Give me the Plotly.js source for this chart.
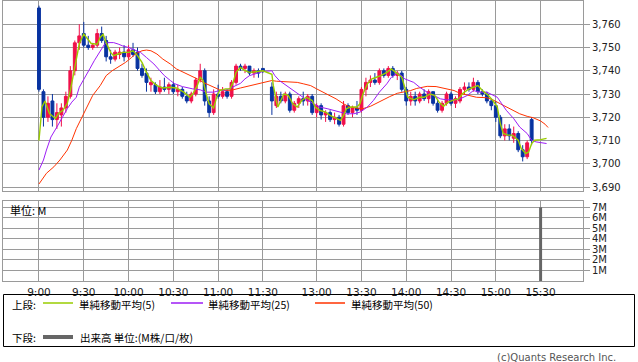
<!DOCTYPE html>
<html><head><meta charset="utf-8">
<script src="https://cdn.plot.ly/plotly-3.0.1.min.js"></script>
<style>html,body{margin:0;padding:0;background:#fff;}#chart{width:638px;height:362px;}</style>
</head><body><div id="chart"></div>
<script>
// ---- 3-minute candles (time, open, high, low, close) ----
const candleTime = ["9:00","9:03","9:06","9:09","9:12","9:15","9:18","9:21","9:24","9:27",
"9:30","9:33","9:36","9:39","9:42","9:45","9:48","9:51","9:54","9:57",
"10:00","10:03","10:06","10:09","10:12","10:15","10:18","10:21","10:24","10:27",
"10:30","10:33","10:36","10:39","10:42","10:45","10:48","10:51","10:54","10:57",
"11:00","11:03","11:06","11:09","11:12","11:15","11:18","11:21","11:24","11:27","11:30",
"12:30","12:33","12:36","12:39","12:42","12:45","12:48","12:51","12:54","12:57",
"13:00","13:03","13:06","13:09","13:12","13:15","13:18","13:21","13:24","13:27",
"13:30","13:33","13:36","13:39","13:42","13:45","13:48","13:51","13:54","13:57",
"14:00","14:03","14:06","14:09","14:12","14:15","14:18","14:21","14:24","14:27",
"14:30","14:33","14:36","14:39","14:42","14:45","14:48","14:51","14:54","14:57",
"15:00","15:03","15:06","15:09","15:12","15:15","15:18","15:21","15:24"];
const openPx = [3767,3731,3720,3727,3719,3721,3724,3729,3740,3752,
3756,3751,3750,3751,3756,3753,3746,3745,3747,3748,
3746,3749,3748,3741,3739,3734,3734,3731,3733,3732,
3734,3731,3732,3729,3727,3730,3736,3740,3727,3722,
3730,3729,3731,3729,3735,3742,3741,3742,3739,3740,3741,
3733,3725,3729,3727,3730,3723,3726,3728,3727,3729,
3722,3725,3721,3722,3719,3720,3717,3725,3722,3724,
3723,3732,3735,3736,3735,3740,3738,3741,3738,3739,
3732,3727,3729,3727,3730,3728,3731,3726,3723,3726,
3730,3726,3727,3732,3733,3732,3735,3731,3730,3727,
3725,3720,3712,3715,3711,3713,3706,3703,3719];
const highPx = [3768,3732,3729,3730,3726,3726,3731,3742,3753,3760,
3761,3755,3752,3758,3759,3755,3749,3749,3750,3751,
3751,3752,3750,3743,3741,3737,3735,3736,3737,3735,
3735,3734,3733,3731,3731,3737,3743,3741,3729,3732,
3734,3733,3732,3736,3743,3743,3743,3742,3741,3741,3741,
3735,3731,3731,3731,3731,3727,3729,3731,3730,3730,
3726,3726,3723,3723,3722,3721,3727,3726,3725,3727,
3733,3737,3738,3739,3741,3741,3742,3742,3740,3740,
3733,3731,3731,3731,3732,3732,3731,3728,3727,3731,
3731,3729,3733,3735,3735,3737,3736,3732,3731,3728,
3727,3721,3717,3717,3716,3714,3708,3710,3720];
const lowPx = [3731,3716,3718,3716,3715,3716,3722,3728,3738,3749,
3750,3749,3749,3750,3752,3744,3743,3744,3745,3744,
3745,3746,3740,3737,3731,3731,3730,3730,3731,3730,
3730,3729,3728,3726,3726,3729,3735,3725,3720,3721,
3728,3728,3728,3728,3734,3740,3739,3738,3737,3737,3739,
3721,3724,3726,3726,3722,3722,3724,3725,3725,3721,
3720,3719,3718,3718,3717,3716,3716,3721,3720,3721,
3722,3729,3733,3734,3734,3737,3737,3737,3736,3731,
3725,3725,3725,3726,3727,3726,3725,3722,3722,3725,
3725,3724,3726,3730,3731,3731,3730,3729,3726,3723,
3718,3711,3710,3710,3709,3705,3701,3702,3708];
const closePx = [3732,3720,3726,3719,3722,3724,3729,3740,3752,3755,
3751,3750,3751,3756,3753,3746,3745,3748,3748,3746,
3749,3747,3741,3738,3735,3735,3731,3733,3732,3734,
3731,3732,3729,3727,3730,3736,3740,3727,3722,3730,
3729,3731,3729,3735,3742,3741,3742,3739,3740,3739,3740,
3727,3729,3727,3730,3723,3726,3728,3727,3729,3722,
3725,3721,3722,3719,3720,3717,3725,3722,3724,3723,
3732,3735,3736,3735,3740,3738,3741,3738,3739,3732,
3727,3729,3727,3730,3728,3731,3726,3723,3726,3730,
3726,3728,3732,3733,3732,3735,3731,3730,3727,3725,
3720,3712,3715,3712,3713,3706,3703,3709,3710];

// ---- moving averages ----
const ma5Time = ["9:00","9:01","9:02","9:04","9:07","9:11","9:13","9:16","9:19","9:21","9:23","9:25","9:27","9:30","9:32","9:35","9:39","9:41","9:43","9:45","9:48","9:50","9:53","9:56","10:00","10:03","10:06","10:09","10:12","10:15","10:19","10:23","10:28","10:32","10:37","10:41","10:43","10:46","10:48","10:50","10:52","10:54","10:57","10:59","11:01","11:05","11:08","11:10","11:12","11:15","11:18","11:21","11:25","11:28","11:30",
"12:30","12:31","12:33","12:34","12:38","12:41","12:44","12:47","12:50","12:53","12:57","12:59","13:02","13:06","13:09","13:12","13:16","13:18","13:20","13:23","13:27","13:29","13:31","13:34","13:37","13:40","13:43","13:47","13:50","13:53","13:57","13:59","14:01","14:05","14:09","14:12","14:16","14:19","14:22","14:25","14:28","14:32","14:35","14:38","14:42","14:45","14:48","14:51","14:55","14:58","15:01","15:03","15:05","15:08","15:11","15:15","15:17","15:20","15:22","15:24","15:26","15:30","15:34"];
const ma5Val = [3710,3717,3724.4,3727,3721.6,3719.5,3721.6,3723,3726,3731.5,3738,3745,3751.6,3755.8,3754.3,3751.7,3751.4,3754.3,3755.7,3752,3747.9,3746.5,3747.2,3747.9,3747.9,3748.6,3746.5,3743.6,3739.3,3735.8,3733.6,3732.6,3732.9,3732.6,3730.8,3728.6,3730,3733.6,3737.2,3735.8,3730,3725.8,3724,3728.6,3731.5,3732.2,3732.2,3735,3739.3,3741.4,3740,3739.3,3739.6,3739.7,3740,
3738.5,3733.6,3727,3724.4,3730,3729.4,3725.8,3724.4,3727.2,3728.6,3727.2,3724.4,3723,3722.2,3720.8,3720,3718.7,3720.8,3723.7,3724.4,3724.4,3725.8,3730,3734.4,3736.5,3737.2,3737.9,3739.3,3740.8,3739.3,3737.2,3732.9,3728.6,3727.5,3728.6,3728.6,3730,3729.4,3726.5,3724.7,3726.5,3727.5,3727.9,3730.3,3732.2,3732.9,3733.6,3731.5,3729.4,3727.2,3724.4,3717.3,3713,3712.3,3712.3,3710.1,3706.6,3704.4,3705.1,3708.7,3710.1,3710.4,3710.9];

const ma25Time = ["9:00","9:03","9:05","9:08","9:12","9:15","9:19","9:22","9:25","9:27","9:31","9:34","9:37","9:41","9:44","9:46","9:50","9:53","9:56","10:00","10:03","10:08","10:12","10:17","10:21","10:24","10:28","10:31","10:36","10:40","10:43","10:48","10:52","10:57","11:01","11:06","11:10","11:15","11:18","11:21","11:26","11:30",
"12:30","12:32","12:35","12:40","12:44","12:49","12:53","12:58","13:02","13:07","13:11","13:16","13:20","13:25","13:29","13:34","13:38","13:42","13:47","13:50","13:54","13:57","13:59","14:05","14:09","14:14","14:18","14:23","14:27","14:32","14:36","14:41","14:45","14:49","14:54","14:57","15:01","15:04","15:07","15:12","15:16","15:21","15:24","15:27","15:31","15:34"];
const ma25Val = [3697.3,3701.6,3705.9,3711.5,3715.8,3719.4,3723.7,3726.5,3728.6,3732.9,3737.2,3740.8,3744.3,3748.6,3751.5,3752.1,3752.1,3751.5,3750.7,3750,3749.3,3747.9,3745.7,3742.9,3740,3737.9,3735.8,3734.4,3733.2,3732.6,3732.2,3731.8,3730.8,3730.8,3731.5,3731.8,3732.9,3734.6,3736.5,3737.9,3738.9,3739.7,
3740,3737.9,3735.8,3733.6,3731.5,3729.4,3727.6,3725.8,3724.4,3723.7,3723,3722.2,3721.5,3721.5,3722.2,3724.4,3727.2,3730.8,3734.4,3737.2,3738.9,3737.9,3736.5,3735,3732.9,3730.8,3729.4,3727.9,3727.5,3727.5,3727.9,3729.4,3731.5,3730.8,3730.8,3730,3728.6,3725.8,3723,3719.4,3715.8,3713,3710.1,3709.4,3709,3708.7];

const ma50Time = ["9:00","9:05","9:10","9:14","9:19","9:22","9:25","9:29","9:32","9:36","9:41","9:45","9:49","9:53","9:58","10:02","10:05","10:09","10:12","10:15","10:19","10:23","10:28","10:32","10:37","10:41","10:46","10:50","10:55","10:59","11:01","11:06","11:10","11:15","11:19","11:24","11:29",
"12:30","12:33","12:38","12:42","12:47","12:51","12:56","13:00","13:04","13:09","13:13","13:18","13:22","13:27","13:31","13:36","13:40","13:45","13:49","13:54","13:58","14:03","14:07","14:14","14:20","14:27","14:32","14:36","14:41","14:47","14:54","14:58","15:03","15:07","15:12","15:16","15:21","15:25","15:30","15:33","15:35"];
const ma50Val = [3691.3,3695.9,3698.7,3701.6,3705.9,3710.1,3715.1,3720.1,3724.4,3729.4,3733.6,3737.9,3740,3741.5,3743.6,3745.7,3747.4,3748.6,3748.9,3748.6,3747.2,3745,3742.9,3740.8,3739.3,3737.9,3736.5,3735,3733.6,3732.2,3731.8,3731.5,3731.8,3732.6,3733.2,3734.1,3734.8,
3735.8,3735.5,3735.3,3735.3,3735,3734.4,3733.6,3732.2,3730.8,3729.4,3727.9,3725.8,3724.4,3723.9,3723.7,3724.7,3726.1,3727.5,3728.9,3730.3,3730.8,3731.5,3732.4,3733.3,3733.2,3732.2,3731.5,3730.3,3729.4,3728.6,3728.4,3727.5,3725.8,3724.4,3723,3721.5,3720.4,3719.8,3718.4,3717,3715.6];

// ---- volume (M shares) ----
const volTime = ["15:30"];
const volVal = [7.0];

// ---- ticks ----
const timeTicks = ["9:00","9:30","10:00","10:30","11:00","11:30","13:00","13:30","14:00","14:30","15:00","15:30"];
const priceTicks = [3690,3700,3710,3720,3730,3740,3750,3760];
const volTicks = [1,2,3,4,5,6,7];
const volTickText = ["1M","2M","3M","4M","5M","6M","7M"];

// session slot: minutes since 9:00, lunch break compressed
function slot(t){const a=t.split(':').map(Number);let v=a[0]*60+a[1]-540;if(v>150)v-=54;return v;}

const RED='#F0104A', BLUE='#0833A0', GRID='#9a9a9a';
const C5='#99CC00', C25='#9D1DF5', C50='#FF3300';
const W=638,H=362,ML=3,MR=55,MT=1,MB=81;
const PW=W-ML-MR, PH=H-MT-MB;
const px=x=>(x-ML)/PW, py=y=>(H-MB-y)/PH;
const jp="'Noto Sans CJK JP', sans-serif", dv="'DejaVu Sans', sans-serif";

const traces=[
 {type:'candlestick',x:candleTime.map(slot),open:openPx,high:highPx,low:lowPx,close:closePx,
  xaxis:'x',yaxis:'y',whiskerwidth:0,hoverinfo:'none',
  increasing:{line:{color:RED,width:1},fillcolor:RED},
  decreasing:{line:{color:BLUE,width:1},fillcolor:BLUE}},
 {type:'scatter',mode:'lines',x:ma50Time.map(slot),y:ma50Val,line:{color:C50,width:1},xaxis:'x',yaxis:'y',hoverinfo:'none'},
 {type:'scatter',mode:'lines',x:ma25Time.map(slot),y:ma25Val,line:{color:C25,width:1},xaxis:'x',yaxis:'y',hoverinfo:'none'},
 {type:'scatter',mode:'lines',x:ma5Time.map(slot),y:ma5Val,line:{color:C5,width:1.4},xaxis:'x',yaxis:'y',hoverinfo:'none'},
 {type:'bar',x:volTime.map(slot),y:volVal,width:2,marker:{color:'#666666',line:{width:0}},xaxis:'x2',yaxis:'y2',hoverinfo:'none'}
];

const axBase={showgrid:true,gridcolor:GRID,gridwidth:1,showline:true,mirror:true,linecolor:GRID,linewidth:1,zeroline:false,fixedrange:true};
const tickVals=timeTicks.map(slot);
const legFont={family:jp,size:10.5,color:'#000'};
const ann=(text,x,y)=>({text:text,x:px(x),y:py(y),xref:'paper',yref:'paper',xanchor:'left',yanchor:'middle',showarrow:false,borderpad:0,font:legFont});
const seg=(x0,x1,y,color,w)=>({type:'line',xref:'paper',yref:'paper',x0:px(x0),x1:px(x1),y0:py(y),y1:py(y),line:{color:color,width:w}});
const layout={
 width:W,height:H,margin:{l:ML,r:MR,t:MT,b:MB},paper_bgcolor:'#fff',plot_bgcolor:'#fff',
 showlegend:false,hovermode:false,dragmode:false,boxgap:0.08,
 xaxis:Object.assign({},axBase,{domain:[0,1],range:[-24.1,364.4],anchor:'y',tickvals:tickVals,showticklabels:false,ticks:'',rangeslider:{visible:false}}),
 yaxis:Object.assign({},axBase,{domain:[py(190.5),1],range:[3688.5,3770],side:'right',anchor:'x',tickvals:priceTicks,tickformat:',d',ticks:'outside',ticklen:6,tickcolor:GRID,tickfont:{family:dv,size:10,color:'#222'}}),
 xaxis2:Object.assign({},axBase,{domain:[0,1],matches:'x',anchor:'y2',tickvals:tickVals,ticktext:timeTicks,ticks:'',ticklabelstandoff:1,tickfont:{family:dv,size:10.5,color:'#222'}}),
 yaxis2:Object.assign({},axBase,{domain:[0,py(201)],range:[0,7.6],side:'right',anchor:'x2',tickvals:volTicks,ticktext:volTickText,ticks:'outside',ticklen:6,tickcolor:GRID,tickfont:{family:dv,size:10,color:'#222'}}),
 shapes:[
  {type:'rect',xref:'paper',yref:'paper',x0:px(3.5),x1:px(634.5),y0:py(294.5),y1:py(346.5),line:{color:'#000',width:1},fillcolor:'rgba(0,0,0,0)'},
  seg(43,73,303,C5,1.5),
  seg(171,203,303,C25,1.5),
  seg(315,345,303,C50,1.5),
  seg(43,73,337,'#666666',4)
 ],
 annotations:[
  {text:'単位: M',x:px(8),y:py(210),xref:'paper',yref:'paper',xanchor:'left',yanchor:'middle',showarrow:false,font:{family:jp,size:11,color:'#000'}},
  ann('上段:',11,304),
  ann('単純移動平均(5)',78,304),
  ann('単純移動平均(25)',207,304),
  ann('単純移動平均(50)',350,304),
  ann('下段:',11,337),
  ann('出来高 単位:(M株/口/枚)',79,337),
  {text:'(c)Quants Research Inc.',x:px(618),y:py(357),xref:'paper',yref:'paper',xanchor:'right',yanchor:'middle',showarrow:false,font:{family:dv,size:10,color:'#555'}}
 ]
};
Plotly.newPlot('chart',traces,layout,{staticPlot:true,displayModeBar:false});
</script></body></html>
